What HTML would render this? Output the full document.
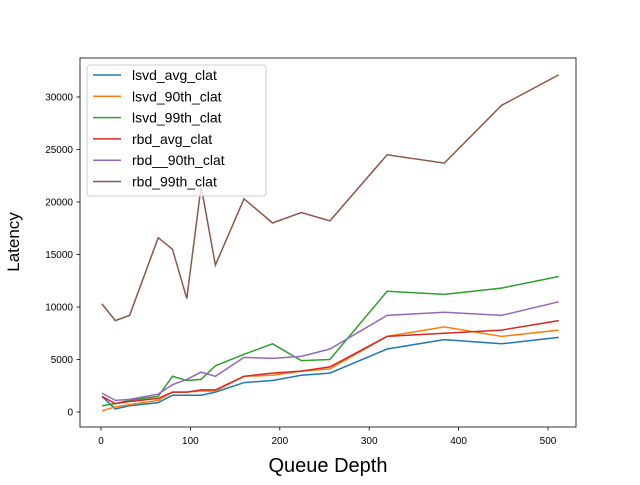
<!DOCTYPE html>
<html><head><meta charset="utf-8"><style>
body{margin:0;background:#fff;font-family:"Liberation Sans","DejaVu Sans",sans-serif}
</style></head><body>
<svg id="c" width="640" height="480" xmlns="http://www.w3.org/2000/svg"></svg>
<script>
const xs=[1,16,32,64,80,96,112,128,160,192,224,256,320,384,448,512];
const seriesNames=["lsvd_avg_clat","lsvd_90th_clat","lsvd_99th_clat","rbd_avg_clat","rbd__90th_clat","rbd_99th_clat"];
const lsvdAvg=[1500,300,600,900,1600,1600,1600,1900,2800,3000,3500,3700,6000,6900,6500,7100];
const lsvd90=[100,500,700,1100,1900,1900,2000,2000,3400,3500,3900,4100,7200,8100,7200,7800];
const lsvd99=[600,800,1100,1500,3400,3000,3100,4400,5500,6500,4900,5000,11500,11200,11800,12900];
const rbdAvg=[1500,800,1000,1300,1900,1900,2100,2100,3400,3700,3900,4300,7200,7500,7800,8700];
const rbd90=[1800,1100,1200,1700,2600,3100,3800,3400,5200,5100,5300,6000,9200,9500,9200,10500];
const rbd99=[10300,8700,9200,16600,15500,10800,21500,14000,20300,18000,19000,18200,24500,23700,29200,32100];
const xTicks=[0,100,200,300,400,500];
const yTicks=[0,5000,10000,15000,20000,25000,30000];
const colors=["#1f77b4","#ff7f0e","#2ca02c","#d62728","#9467bd","#8c564b"];
const allSeries=[lsvdAvg,lsvd90,lsvd99,rbdAvg,rbd90,rbd99];
const L=80,R=576,T=58,B=427;
const X=v=>101+v*0.894;
const Y=v=>412-v*0.0105;
const svg=document.getElementById('c');
const NS="http://www.w3.org/2000/svg";
function mk(t,a,p){const e=document.createElementNS(NS,t);for(const k in a)e.setAttribute(k,a[k]);(p||svg).appendChild(e);return e;}
allSeries.forEach((s,i)=>{
 const pts=s.map((v,j)=>X(xs[j]).toFixed(1)+","+Y(v).toFixed(1)).join(" ");
 const pl=mk('polyline',{points:pts,fill:"none",stroke:colors[i],"stroke-width":1.5});
 
 
});
const fr=mk('rect',{x:L,y:T,width:R-L,height:B-T,fill:"none",stroke:"#000","stroke-width":0.8});


xTicks.forEach(t=>{
 mk('line',{x1:X(t),x2:X(t),y1:B,y2:B+3.5,stroke:"#000","stroke-width":0.8});
 const tx=mk('text',{x:X(t),y:B+17,"text-anchor":"middle","font-size":10});
 tx.textContent=t;
 
 
});
yTicks.forEach(t=>{
 mk('line',{x1:L,x2:L-3.5,y1:Y(t),y2:Y(t),stroke:"#000","stroke-width":0.8});
 const tx=mk('text',{x:L-7,y:Y(t)+3.5,"text-anchor":"end","font-size":10});
 tx.textContent=t;
 
 
});
const xt=mk('text',{x:(L+R)/2,y:472,"text-anchor":"middle","font-size":20});
xt.textContent="Queue Depth";


const yt=mk('text',{x:0,y:0,"text-anchor":"middle","font-size":17,transform:"translate(19,242) rotate(-90)"});
yt.textContent="Latency";


const lg=mk('g',{});


mk('rect',{x:87,y:65,width:179,height:131,rx:3,fill:"#fff","fill-opacity":0.8,stroke:"#ccc"},lg);
seriesNames.forEach((n,i)=>{
 const y=75+i*21.3;
 mk('line',{x1:93,x2:121,y1:y,y2:y,stroke:colors[i],"stroke-width":1.5},lg);
 const tx=mk('text',{x:132,y:y+5,"font-size":14},lg);
 tx.textContent=n;
 
 
});
</script>
</body></html>
